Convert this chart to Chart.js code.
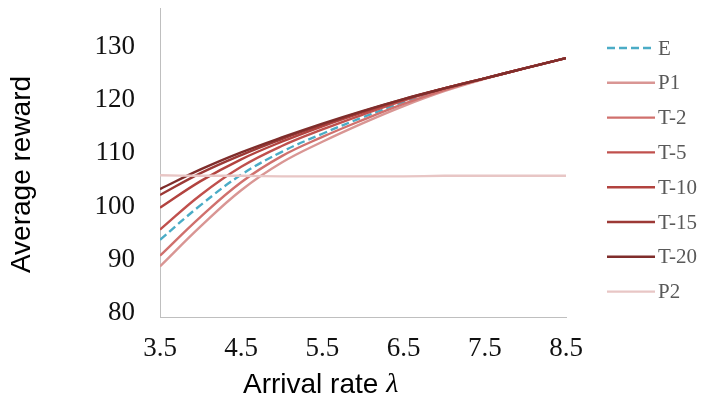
<!DOCTYPE html>
<html>
<head>
<meta charset="utf-8">
<script src="https://cdn.jsdelivr.net/npm/chart.js@4.4.1/dist/chart.umd.min.js"></script>
<style>
  html, body { margin: 0; padding: 0; background: #fff; }
</style>
</head>
<body>
<canvas id="rewardChart" width="705" height="399"></canvas>
<script>
// --- data ---
const lambdas = [3.5, 4, 4.5, 5, 5.5, 6, 6.5, 7, 7.5, 8, 8.5];
const xTicks = [3.5, 4.5, 5.5, 6.5, 7.5, 8.5];
const yTicks = [80, 90, 100, 110, 120, 130];

const seriesNames = ["E", "P1", "T-2", "T-5", "T-10", "T-15", "T-20", "P2"];
const E   = [94.5, 101.0, 106.7, 111.0, 114.4, 117.5, 120.3, 122.8, 124.8, 126.7, 128.6];
const P1  = [89.5,  97.0, 103.8, 109.0, 112.9, 116.4, 119.6, 122.4, 124.7, 126.7, 128.6];
const T2  = [91.5,  98.8, 105.3, 110.2, 113.8, 117.0, 120.0, 122.6, 124.8, 126.7, 128.6];
const T5  = [96.4, 102.9, 108.2, 112.1, 115.2, 118.0, 120.6, 122.9, 124.8, 126.7, 128.6];
const T10 = [100.5, 105.5, 109.6, 112.9, 115.8, 118.4, 120.8, 122.9, 124.8, 126.7, 128.6];
const T15 = [102.9, 107.0, 110.4, 113.4, 116.1, 118.6, 120.9, 122.9, 124.8, 126.7, 128.6];
const T20 = [104.0, 107.7, 110.9, 113.7, 116.3, 118.7, 120.9, 122.9, 124.8, 126.7, 128.6];
const P2  = [106.6, 106.5, 106.5, 106.4, 106.4, 106.4, 106.4, 106.5, 106.5, 106.5, 106.5];

const seriesValues = [E, P1, T2, T5, T10, T15, T20, P2];
const seriesColors = ["#4bacc6", "#d99694", "#d0706d", "#c0504d", "#b2433f", "#9c3936", "#7f2d2b", "#e8c6c5"];

const yTitle = "Average reward";
const xTitle = "Arrival rate ";
const xTitleSymbol = "λ";

// --- legend + axis titles drawn on top ---
const sideLabels = {
  id: "sideLabels",
  afterDraw(chart) {
    const { ctx, chartArea: a } = chart;
    ctx.save();
    ctx.fillStyle = "#000";
    ctx.textBaseline = "middle";
    ctx.font = '28px "Liberation Sans"';

    // y title (rotated)
    ctx.save();
    ctx.translate(22, (a.top + a.bottom) / 2 + 12);
    ctx.rotate(-Math.PI / 2);
    ctx.textAlign = "center";
    ctx.fillText(yTitle, 0, 0);
    ctx.restore();

    // x title with italic lambda
    const tx = a.left + 83;
    const ty = 385;
    ctx.textAlign = "left";
    ctx.fillText(xTitle, tx, ty);
    const w = ctx.measureText(xTitle).width;
    ctx.font = 'italic 28px "Liberation Serif"';
    ctx.fillText(xTitleSymbol, tx + w, ty);

    // legend
    ctx.font = '21px "Liberation Serif"';
    ctx.fillStyle = "#595959";
    chart.data.datasets.forEach((ds, i) => {
      const y = a.top + 40 + i * 34.8;
      const x0 = a.right + 41;
      ctx.save();
      ctx.strokeStyle = ds.borderColor;
      ctx.lineWidth = ds.borderWidth;
      ctx.setLineDash(ds.borderDash || []);
      ctx.beginPath();
      ctx.moveTo(x0, y);
      ctx.lineTo(x0 + 48, y);
      ctx.stroke();
      ctx.restore();
      ctx.fillText(ds.label, x0 + 51, y + 1);
    });
    ctx.restore();
  },
};

const datasets = seriesNames.map((name, i) => ({
  label: name,
  data: lambdas.map((x, j) => ({ x, y: seriesValues[i][j] })),
  borderColor: seriesColors[i],
  borderWidth: 2.4,
  borderDash: name === "E" ? [8, 4] : [],
  pointRadius: 0,
  fill: false,
  tension: 0.4,
  order: seriesNames.length - i,
}));

new Chart(document.getElementById("rewardChart"), {
  type: "line",
  data: { datasets },
  plugins: [sideLabels],
  options: {
    responsive: false,
    devicePixelRatio: 1,
    animation: false,
    layout: { padding: { top: 8, right: 139, left: 0, bottom: 0 } },
    plugins: { legend: { display: false }, tooltip: { enabled: false } },
    scales: {
      x: {
        type: "linear",
        min: 3.5,
        max: 8.5,
        grid: { display: false, drawTicks: false },
        border: { color: "#bfbfbf", width: 1 },
        afterBuildTicks: (s) => { s.ticks = xTicks.map((v) => ({ value: v })); },
        afterFit: (s) => { s.height = 82; s.paddingLeft = 0; s.paddingRight = 0; },
        ticks: {
          color: "#111",
          font: { family: "Liberation Serif", size: 27 },
          padding: 16,
          maxRotation: 0,
          callback: (v) => v.toFixed(1),
        },
      },
      y: {
        min: 80,
        max: 138,
        grid: { display: false, drawTicks: false },
        border: { color: "#bfbfbf", width: 1 },
        afterBuildTicks: (s) => { s.ticks = yTicks.map((v) => ({ value: v })); },
        afterFit: (s) => { s.width = 160; s.paddingTop = 0; s.paddingBottom = 0; },
        ticks: {
          color: "#111",
          font: { family: "Liberation Serif", size: 27 },
          padding: 25,
          labelOffset: -4,
          callback: (v) => String(v),
        },
      },
    },
  },
});
</script>
</body>
</html>
